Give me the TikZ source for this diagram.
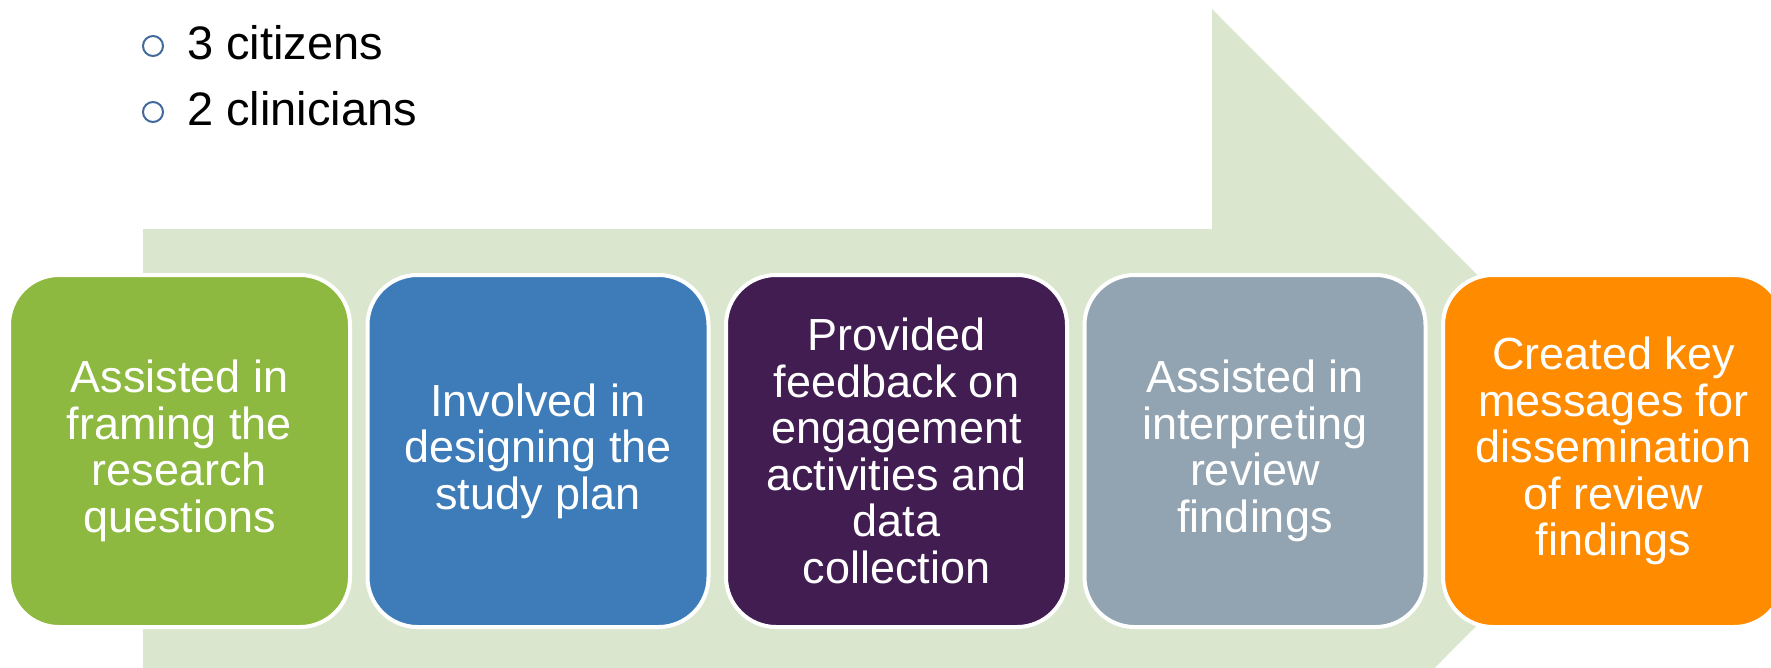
\documentclass[tikz,border=0pt]{standalone}
\usepackage{fontspec}
\setmainfont{Liberation Sans}
\usepackage{xcolor}
\usepackage{tikz}
\usetikzlibrary{positioning}

\definecolor{arrowgreen}{HTML}{DBE6CF}
\definecolor{stepgreen}{HTML}{8DB940}
\definecolor{stepblue}{HTML}{3E7CB9}
\definecolor{steppurple}{HTML}{421D52}
\definecolor{stepgray}{HTML}{92A4B1}
\definecolor{steporange}{HTML}{FF8B00}
\definecolor{bulletblue}{HTML}{41699C}

\tikzset{
stage/.style = {rectangle, rounded corners = 50pt, draw = white,
 line width = 4pt, outer sep = 0pt, minimum width = 341pt,
 minimum height = 352pt, align = center, text = white,
 font = \fontsize{45}{46.5}\selectfont},
bulletmark/.style = {circle, draw = bulletblue, line width = 2pt,
 minimum size = 20pt, inner sep = 0pt},
member/.style = {anchor = base west, inner sep = 0pt,
 font = \fontsize{47}{56}\selectfont}
}

\begin{document}
\begin{tikzpicture}[x = 1pt, y = -1pt]

\useasboundingbox (0,0) rectangle (1771,667);
\clip (0,0) rectangle (1771,667);

\fill[arrowgreen] (143,229) -- (1212,229) -- (1212,9) -- (1652,450)
 -- (1212,891) -- (1212,671) -- (143,671) -- cycle;

\node[member] (citizens) at (187,59) {3 citizens};
\node[member] (clinicians) at (187,125) {2 clinicians};
\node[bulletmark] (citizensdot) at (153,46) {};
\node[bulletmark] (cliniciansdot) at (153,112) {};

\node[stage, fill = stepgreen] (framing) at (179.5,451)
 {Assisted in\\framing the\\research\\questions};
\node[stage, fill = stepblue, right = 17.5pt of framing] (designing)
 {Involved in\\designing the\\study plan};
\node[stage, fill = steppurple, right = 17.5pt of designing] (feedback)
 {Provided\\feedback on\\engagement\\activities and\\data\\collection};
\node[stage, fill = stepgray, right = 17.5pt of feedback] (interpreting)
 {Assisted in\\interpreting\\review\\findings};
\node[stage, fill = steporange, right = 17.5pt of interpreting] (messages)
 {Created key\\messages for\\dissemination\\of review\\findings};

\end{tikzpicture}
\end{document}
